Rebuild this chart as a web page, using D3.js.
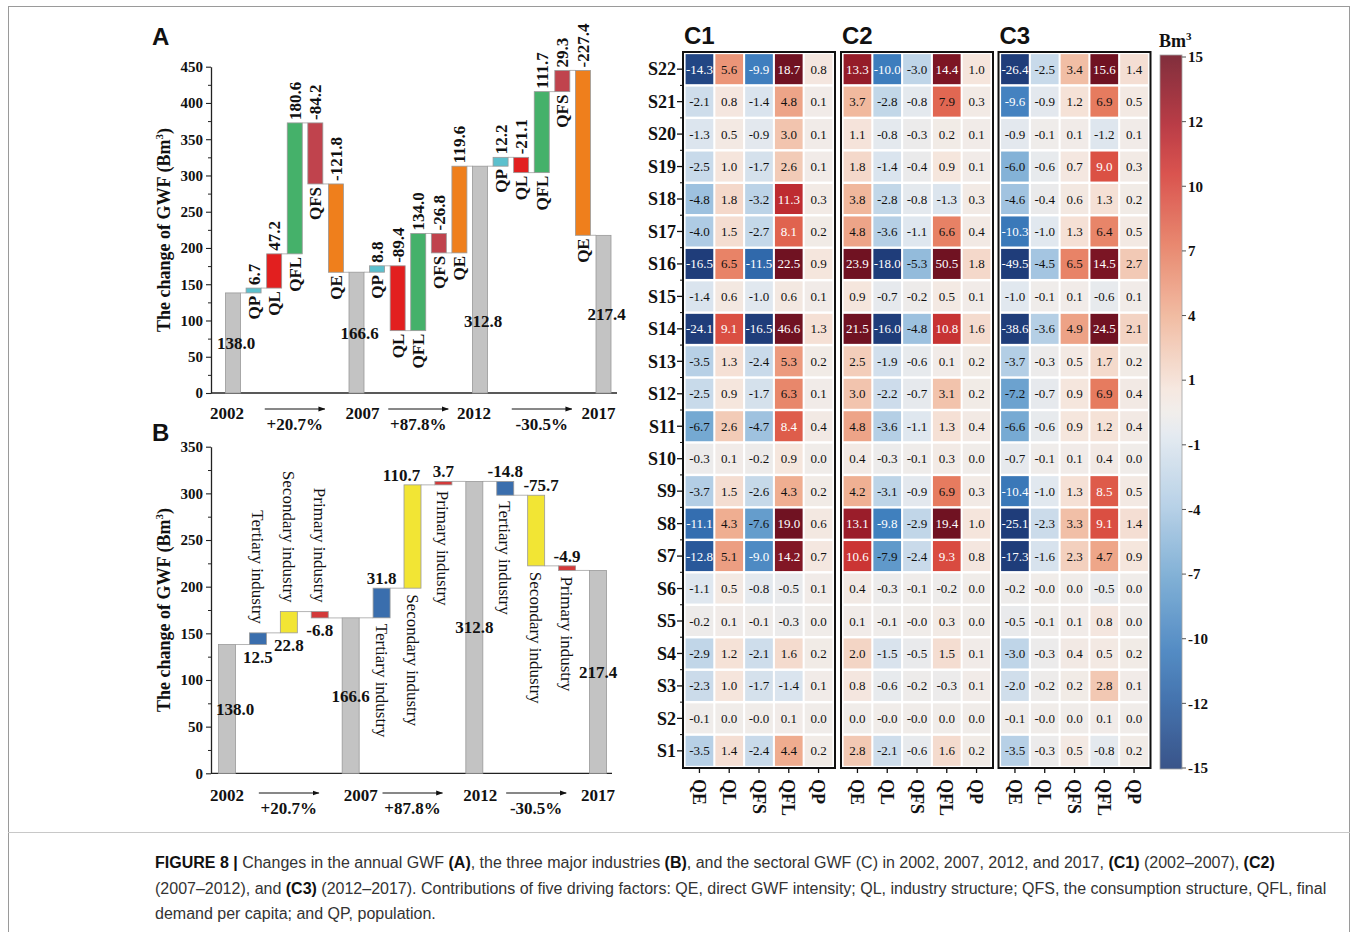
<!DOCTYPE html>
<html><head><meta charset="utf-8">
<script src="https://cdn.jsdelivr.net/npm/d3@7"></script>
<style>body{margin:0;background:#fff} svg{display:block}</style>
</head><body><svg id="c" width="1356" height="932"></svg>
<script>
// ---------------- DATA ----------------
const years = ["2002","2007","2012","2017"];
const changes = ["+20.7%","+87.8%","-30.5%"];

const aSteps  = ["2002","QP","QL","QFL","QFS","QE","2007","QP","QL","QFL","QFS","QE","2012","QP","QL","QFL","QFS","QE","2017"];
const aValues = [138.0, 6.7, 47.2, 180.6, -84.2, -121.8, 166.6, 8.8, -89.4, 134.0, -26.8, 119.6, 312.8, 12.2, -21.1, 111.7, 29.3, -227.4, 217.4];
const aTicks  = [0,50,100,150,200,250,300,350,400,450];

const bSteps  = ["2002","Tertiary industry","Secondary industry","Primary industry","2007","Tertiary industry","Secondary industry","Primary industry","2012","Tertiary industry","Secondary industry","Primary industry","2017"];
const bValues = [138.0, 12.5, 22.8, -6.8, 166.6, 31.8, 110.7, 3.7, 312.8, -14.8, -75.7, -4.9, 217.4];
const bTicks  = [0,50,100,150,200,250,300,350];

const sectors = ["S22","S21","S20","S19","S18","S17","S16","S15","S14","S13","S12","S11","S10","S9","S8","S7","S6","S5","S4","S3","S2","S1"];
const factors = ["QE","QL","QFS","QFL","QP"];

const c1 = [
 [-14.3, 5.6, -9.9, 18.7, 0.8],
 [-2.1, 0.8, -1.4, 4.8, 0.1],
 [-1.3, 0.5, -0.9, 3.0, 0.1],
 [-2.5, 1.0, -1.7, 2.6, 0.1],
 [-4.8, 1.8, -3.2, 11.3, 0.3],
 [-4.0, 1.5, -2.7, 8.1, 0.2],
 [-16.5, 6.5, -11.5, 22.5, 0.9],
 [-1.4, 0.6, -1.0, 0.6, 0.1],
 [-24.1, 9.1, -16.5, 46.6, 1.3],
 [-3.5, 1.3, -2.4, 5.3, 0.2],
 [-2.5, 0.9, -1.7, 6.3, 0.1],
 [-6.7, 2.6, -4.7, 8.4, 0.4],
 [-0.3, 0.1, -0.2, 0.9, 0.0],
 [-3.7, 1.5, -2.6, 4.3, 0.2],
 [-11.1, 4.3, -7.6, 19.0, 0.6],
 [-12.8, 5.1, -9.0, 14.2, 0.7],
 [-1.1, 0.5, -0.8, -0.5, 0.1],
 [-0.2, 0.1, -0.1, -0.3, 0.0],
 [-2.9, 1.2, -2.1, 1.6, 0.2],
 [-2.3, 1.0, -1.7, -1.4, 0.1],
 [-0.1, 0.0, -0.0, 0.1, 0.0],
 [-3.5, 1.4, -2.4, 4.4, 0.2]
];
const c2 = [
 [13.3, -10.0, -3.0, 14.4, 1.0],
 [3.7, -2.8, -0.8, 7.9, 0.3],
 [1.1, -0.8, -0.3, 0.2, 0.1],
 [1.8, -1.4, -0.4, 0.9, 0.1],
 [3.8, -2.8, -0.8, -1.3, 0.3],
 [4.8, -3.6, -1.1, 6.6, 0.4],
 [23.9, -18.0, -5.3, 50.5, 1.8],
 [0.9, -0.7, -0.2, 0.5, 0.1],
 [21.5, -16.0, -4.8, 10.8, 1.6],
 [2.5, -1.9, -0.6, 0.1, 0.2],
 [3.0, -2.2, -0.7, 3.1, 0.2],
 [4.8, -3.6, -1.1, 1.3, 0.4],
 [0.4, -0.3, -0.1, 0.3, 0.0],
 [4.2, -3.1, -0.9, 6.9, 0.3],
 [13.1, -9.8, -2.9, 19.4, 1.0],
 [10.6, -7.9, -2.4, 9.3, 0.8],
 [0.4, -0.3, -0.1, -0.2, 0.0],
 [0.1, -0.1, -0.0, 0.3, 0.0],
 [2.0, -1.5, -0.5, 1.5, 0.1],
 [0.8, -0.6, -0.2, -0.3, 0.1],
 [0.0, -0.0, -0.0, 0.0, 0.0],
 [2.8, -2.1, -0.6, 1.6, 0.2]
];
const c3 = [
 [-26.4, -2.5, 3.4, 15.6, 1.4],
 [-9.6, -0.9, 1.2, 6.9, 0.5],
 [-0.9, -0.1, 0.1, -1.2, 0.1],
 [-6.0, -0.6, 0.7, 9.0, 0.3],
 [-4.6, -0.4, 0.6, 1.3, 0.2],
 [-10.3, -1.0, 1.3, 6.4, 0.5],
 [-49.5, -4.5, 6.5, 14.5, 2.7],
 [-1.0, -0.1, 0.1, -0.6, 0.1],
 [-38.6, -3.6, 4.9, 24.5, 2.1],
 [-3.7, -0.3, 0.5, 1.7, 0.2],
 [-7.2, -0.7, 0.9, 6.9, 0.4],
 [-6.6, -0.6, 0.9, 1.2, 0.4],
 [-0.7, -0.1, 0.1, 0.4, 0.0],
 [-10.4, -1.0, 1.3, 8.5, 0.5],
 [-25.1, -2.3, 3.3, 9.1, 1.4],
 [-17.3, -1.6, 2.3, 4.7, 0.9],
 [-0.2, -0.0, 0.0, -0.5, 0.0],
 [-0.5, -0.1, 0.1, 0.8, 0.0],
 [-3.0, -0.3, 0.4, 0.5, 0.2],
 [-2.0, -0.2, 0.2, 2.8, 0.1],
 [-0.1, -0.0, 0.0, 0.1, 0.0],
 [-3.5, -0.3, 0.5, -0.8, 0.2]
];
const cbTicks = ["15","12","10","7","4","1","-1","-4","-7","-10","-12","-15"];

// ---------------- RENDER ----------------
const SERIF = "'Liberation Serif','Times New Roman',serif";
const SANS = "'Liberation Sans',Arial,sans-serif";
const svg = d3.select("#c");

// figure frame
svg.append("rect").attr("x",8.5).attr("y",6.5).attr("width",1341).attr("height",940)
  .attr("fill","none").attr("stroke","#9a9a9a").attr("stroke-width",1);
svg.append("line").attr("x1",8).attr("x2",1350).attr("y1",832.5).attr("y2",832.5)
  .attr("stroke","#c8c8c8").attr("stroke-width",1);

svg.append("defs").append("marker").attr("id","arr").attr("viewBox","0 0 10 10")
  .attr("refX",9).attr("refY",5).attr("markerWidth",7).attr("markerHeight",7).attr("orient","auto")
  .append("path").attr("d","M0,1.5 L10,5 L0,8.5 Z").attr("fill","#111");

function fmt(v){ return (Object.is(v,-0) ? "-0.0" : v.toFixed(1)); }

function waterfallData(steps, values){
  let run = 0, grp = -1;
  return steps.map((s,i)=>{
    const v = values[i], total = years.includes(s);
    let y0, y1;
    if (total){ grp++; y0 = 0; y1 = v; run = v; }
    else { y0 = run; y1 = run + v; run = y1; }
    return {i, s, v, y0, y1, total, end: run, grp};
  });
}

function drawAxes(g, y, ticks, x0, x1, titleCY){
  const minor = [];
  for (let k=0;k<ticks.length-1;k++) minor.push((ticks[k]+ticks[k+1])/2);
  const ax = g.append("g").attr("transform",`translate(${x0},0)`)
    .call(d3.axisLeft(y).tickValues(ticks).tickSize(5).tickSizeOuter(0).tickPadding(3));
  ax.selectAll("text").attr("font-family",SERIF).attr("font-weight","bold").attr("font-size",15).attr("fill","#111");
  ax.select(".domain").attr("stroke","#222").attr("stroke-width",1.3);
  ax.selectAll(".tick line").attr("stroke","#222").attr("stroke-width",1.1);
  const mx = g.append("g").attr("transform",`translate(${x0},0)`)
    .call(d3.axisLeft(y).tickValues(minor).tickSize(3).tickFormat(""));
  mx.select(".domain").remove();
  mx.selectAll(".tick line").attr("stroke","#222");
  g.append("line").attr("x1",x0).attr("x2",x1).attr("y1",y(0)).attr("y2",y(0))
    .attr("stroke","#222").attr("stroke-width",1.3);
  const t = g.append("text").attr("transform",`translate(164,${titleCY}) rotate(-90)`)
    .attr("text-anchor","middle").attr("dy","0.35em")
    .attr("font-family",SERIF).attr("font-weight","bold").attr("font-size",18).attr("fill","#111");
  t.append("tspan").text("The change of GWF (Bm");
  t.append("tspan").attr("dy",-7).attr("font-size",11).text("3");
  t.append("tspan").attr("dy",7).text(")");
}

function drawYearsRow(g, xc, idx, yBase, arrowY, pctBase, yearDx){
  years.forEach((yr,k)=>{
    g.append("text").attr("x", xc(idx[k]) + yearDx[k]).attr("y", yBase).attr("text-anchor","middle")
      .attr("font-family",SERIF).attr("font-weight","bold").attr("font-size",17).attr("fill","#111").text(yr);
  });
  changes.forEach((c,k)=>{
    const m = (xc(idx[k]) + xc(idx[k+1]))/2;
    g.append("line").attr("x1",m-30).attr("x2",m+30).attr("y1",arrowY).attr("y2",arrowY)
      .attr("stroke","#111").attr("stroke-width",1).attr("marker-end","url(#arr)");
    g.append("text").attr("x",m).attr("y",pctBase).attr("text-anchor","middle")
      .attr("font-family",SERIF).attr("font-weight","bold").attr("font-size",17).attr("fill","#111").text(c);
  });
}

const txt = (g)=> g.append("text").attr("font-family",SERIF).attr("font-weight","bold")
  .attr("font-size",17).attr("fill","#111");

// ---------- Panel A ----------
(function(){
  const g = svg.append("g");
  const colors = {QP:"#5cc0cd", QL:"#e21f1f", QFL:"#45b16a", QFS:"#c0434d", QE:"#ef7f1c"};
  const d = waterfallData(aSteps, aValues);
  const xc = d3.scalePoint().domain(d3.range(aSteps.length)).range([233, 603.5]);
  const y = d3.scaleLinear().domain([0,450]).range([393, 66.7]);
  const bw = 15;
  drawAxes(g, y, aTicks, 211, 617, 230);
  // connectors
  d.slice(0,-1).forEach((b,k)=>{
    g.append("line").attr("x1",xc(k)+bw/2).attr("x2",xc(k+1)-bw/2)
      .attr("y1",y(b.end)).attr("y2",y(b.end)).attr("stroke","#b5b5b5").attr("stroke-width",1);
  });
  g.selectAll("rect.bar").data(d).join("rect").attr("class","bar")
    .attr("x",b=>xc(b.i)-bw/2).attr("width",bw)
    .attr("y",b=>y(Math.max(b.y0,b.y1))).attr("height",b=>Math.abs(y(b.y0)-y(b.y1)))
    .attr("fill",b=>b.total?"#c3c3c3":colors[b.s]).attr("stroke","#999").attr("stroke-width",0.8);
  d.forEach(b=>{
    if (b.total){
      const ly = b.grp===2 ? y(99) : y(b.v/2);
      txt(g).attr("x",xc(b.i)+3).attr("y",ly).attr("dy","0.35em").attr("text-anchor","middle").text(fmt(b.v));
    } else {
      const top = y(Math.max(b.y0,b.y1)), bot = y(Math.min(b.y0,b.y1));
      txt(g).attr("transform",`translate(${xc(b.i)},${top-3}) rotate(-90)`).attr("dy","0.35em")
        .attr("text-anchor","start").text(fmt(b.v));
      txt(g).attr("transform",`translate(${xc(b.i)},${bot+3}) rotate(-90)`).attr("dy","0.35em")
        .attr("text-anchor","end").text(b.s);
    }
  });
  drawYearsRow(g, xc, [0,6,12,18], 419, 409, 430, [-6,6,-6,-5]);
  g.append("text").attr("x",152).attr("y",45).attr("font-family",SANS).attr("font-weight","bold")
    .attr("font-size",24).attr("fill","#111").text("A");
})();

// ---------- Panel B ----------
(function(){
  const g = svg.append("g");
  const colors = {"Tertiary industry":"#3a6ead","Secondary industry":"#f2e534","Primary industry":"#d33a3a"};
  const d = waterfallData(bSteps, bValues);
  const xc = d3.scalePoint().domain(d3.range(bSteps.length)).range([227, 598]);
  const y = d3.scaleLinear().domain([0,350]).range([773.3, 446.7]);
  const bw = 17;
  drawAxes(g, y, bTicks, 211, 612, 610);
  d.slice(0,-1).forEach((b,k)=>{
    g.append("line").attr("x1",xc(k)+bw/2).attr("x2",xc(k+1)-bw/2)
      .attr("y1",y(b.end)).attr("y2",y(b.end)).attr("stroke","#b5b5b5").attr("stroke-width",1);
  });
  g.selectAll("rect.bar").data(d).join("rect").attr("class","bar")
    .attr("x",b=>xc(b.i)-bw/2).attr("width",bw)
    .attr("y",b=>y(Math.max(b.y0,b.y1))).attr("height",b=>Math.max(1,Math.abs(y(b.y0)-y(b.y1))))
    .attr("fill",b=>b.total?"#c3c3c3":colors[b.s]).attr("stroke","#999").attr("stroke-width",0.8);
  d.forEach(b=>{
    const cx = xc(b.i);
    if (b.total){
      txt(g).attr("x",cx+(b.grp===0?8:0)).attr("y",y(b.v/2)).attr("dy","0.35em").attr("text-anchor","middle").text(fmt(b.v));
      return;
    }
    const top = y(Math.max(b.y0,b.y1)), bot = y(Math.min(b.y0,b.y1));
    const name = g.append("text").attr("font-family",SERIF).attr("font-size",17).attr("fill","#111").attr("dy","0.35em");
    if (b.grp===0){
      txt(g).attr("x",cx).attr("y",bot+5).attr("dy","0.78em").attr("text-anchor","middle").text(fmt(b.v));
      name.attr("transform",`translate(${cx},${top-9}) rotate(90)`).attr("text-anchor","end").text(b.s);
    } else {
      const dx = b.v===110.7 ? -11 : (b.v===-75.7 ? 5 : 0);
      txt(g).attr("x",cx+dx).attr("y",top-4).attr("text-anchor","middle").text(fmt(b.v));
      name.attr("transform",`translate(${cx},${bot+6}) rotate(90)`).attr("text-anchor","start").text(b.s);
    }
  });
  drawYearsRow(g, xc, [0,4,8,12], 801, 793, 814, [0,10,6,0]);
  g.append("text").attr("x",152).attr("y",441).attr("font-family",SANS).attr("font-weight","bold")
    .attr("font-size",24).attr("fill","#111").text("B");
})();

// ---------- Heatmaps ----------
const color = d3.scaleLinear()
  .domain([-15,-12,-10,-7,-4,-1,0,1,4,7,10,12,15])
  .range(["#1f3d7a","#2c62a5","#3d7dbd","#6fa5d0","#aecbe4","#e1e8ef","#f0ece9","#f5e5dc","#f0b497","#e6795d","#d53d37","#b2232e","#701222"])
  .clamp(true);

(function(){
  const g = svg.append("g");
  const frameTop = 52, frameBot = 768, fw = 152;
  const panels = [{name:"C1", data:c1, x:683},{name:"C2", data:c2, x:841},{name:"C3", data:c3, x:998.5}];
  const yRow = d3.scaleBand().domain(sectors).range([frameTop+1.5, frameBot-1.5]).paddingInner(0.075).paddingOuter(0.02);
  panels.forEach((p,pi)=>{
    const xCol = d3.scaleBand().domain(factors).range([p.x+2, p.x+fw-2]).paddingInner(0.07).paddingOuter(0.02);
    const cells = [];
    sectors.forEach((s,ri)=> factors.forEach((f,ci)=> cells.push({s,f,v:p.data[ri][ci]})));
    const cg = g.append("g");
    cg.selectAll("rect").data(cells).join("rect")
      .attr("x",c=>xCol(c.f)).attr("y",c=>yRow(c.s))
      .attr("width",xCol.bandwidth()).attr("height",yRow.bandwidth())
      .attr("fill",c=>color(c.v));
    cg.selectAll("text").data(cells).join("text")
      .attr("x",c=>xCol(c.f)+xCol.bandwidth()/2).attr("y",c=>yRow(c.s)+yRow.bandwidth()/2)
      .attr("dy","0.35em").attr("text-anchor","middle")
      .attr("font-family",SERIF).attr("font-size",13)
      .attr("fill",c=>Math.abs(c.v)>=8?"#fff":"#111").text(c=>fmt(c.v));
    g.append("rect").attr("x",p.x).attr("y",frameTop).attr("width",fw).attr("height",frameBot-frameTop)
      .attr("fill","none").attr("stroke","#111").attr("stroke-width",2);
    // bottom ticks + labels
    factors.forEach(f=>{
      const cx = xCol(f)+xCol.bandwidth()/2;
      g.append("line").attr("x1",cx).attr("x2",cx).attr("y1",frameBot).attr("y2",frameBot+5).attr("stroke","#111").attr("stroke-width",1.3);
      g.append("text").attr("transform",`translate(${cx},${frameBot+11}) rotate(90)`).attr("dy","0.35em")
        .attr("font-family",SERIF).attr("font-weight","bold").attr("font-size",18).attr("fill","#111").text(f);
    });
    g.append("text").attr("x",p.x+1).attr("y",44).attr("font-family",SANS).attr("font-weight","bold")
      .attr("font-size",24).attr("fill","#111").text(p.name);
    if (pi===0){
      sectors.forEach((s,ri)=>{
        const cy = yRow(s)+yRow.bandwidth()/2;
        g.append("line").attr("x1",p.x-6).attr("x2",p.x).attr("y1",cy).attr("y2",cy).attr("stroke","#111").attr("stroke-width",1.3);
        g.append("text").attr("x",p.x-7).attr("y",cy).attr("dy","0.35em").attr("text-anchor","end")
          .attr("font-family",SERIF).attr("font-weight","bold").attr("font-size",18).attr("fill","#111").text(s);
        if (ri < sectors.length-1){
          const by = yRow(s)+yRow.step()- (yRow.step()-yRow.bandwidth())/2 + 0;
          g.append("line").attr("x1",p.x-3).attr("x2",p.x).attr("y1",by).attr("y2",by).attr("stroke","#111").attr("stroke-width",1);
        }
      });
    }
  });

  // colorbar
  const cbx = 1160, cbw = 22, cbTop = 55, cbBot = 769;
  const grad = svg.select("defs").append("linearGradient").attr("id","cb").attr("x1",0).attr("x2",0).attr("y1",0).attr("y2",1);
  d3.range(0,31).forEach(k=>{
    const v = 15 - k;
    grad.append("stop").attr("offset",(k/30)).attr("stop-color",color(v));
  });
  g.append("rect").attr("x",cbx).attr("y",cbTop).attr("width",cbw).attr("height",cbBot-cbTop)
    .attr("fill","url(#cb)").attr("opacity",0.88).attr("stroke","#999").attr("stroke-width",0.8);
  const yCb = d3.scalePoint().domain(cbTicks).range([cbTop+2, cbBot-1]);
  cbTicks.forEach(t=>{
    g.append("line").attr("x1",cbx+cbw).attr("x2",cbx+cbw+4).attr("y1",yCb(t)).attr("y2",yCb(t)).attr("stroke","#555");
    g.append("text").attr("x",cbx+cbw+6).attr("y",yCb(t)).attr("dy","0.35em")
      .attr("font-family",SERIF).attr("font-weight","bold").attr("font-size",15).attr("fill","#111").text(t);
  });
  const bt = g.append("text").attr("x",cbx-1).attr("y",47).attr("font-family",SERIF).attr("font-weight","bold")
    .attr("font-size",18).attr("fill","#111");
  bt.append("tspan").text("Bm");
  bt.append("tspan").attr("dy",-7).attr("font-size",11).text("3");
})();

// ---------- Caption ----------
(function(){
  const lines = [
    [["FIGURE 8 |",1],[" Changes in the annual GWF ",0],["(A)",1],[", the three major industries ",0],["(B)",1],[", and the sectoral GWF (C) in 2002, 2007, 2012, and 2017, ",0],["(C1)",1],[" (2002–2007), ",0],["(C2)",1]],
    [["(2007–2012), and ",0],["(C3)",1],[" (2012–2017). Contributions of five driving factors: QE, direct GWF intensity; QL, industry structure; QFS, the consumption structure, QFL, final",0]],
    [["demand per capita; and QP, population.",0]]
  ];
  const base = [868, 894, 919];
  lines.forEach((ln,k)=>{
    const t = svg.append("text").attr("x",155).attr("y",base[k]).attr("font-family",SANS).attr("font-size",16).attr("fill","#333")
      .attr("xml:space","preserve");
    ln.forEach(([s,b])=> t.append("tspan").attr("font-weight",b?"bold":"normal").attr("fill",b?"#111":"#333").text(s));
  });
})();
</script></body></html>
